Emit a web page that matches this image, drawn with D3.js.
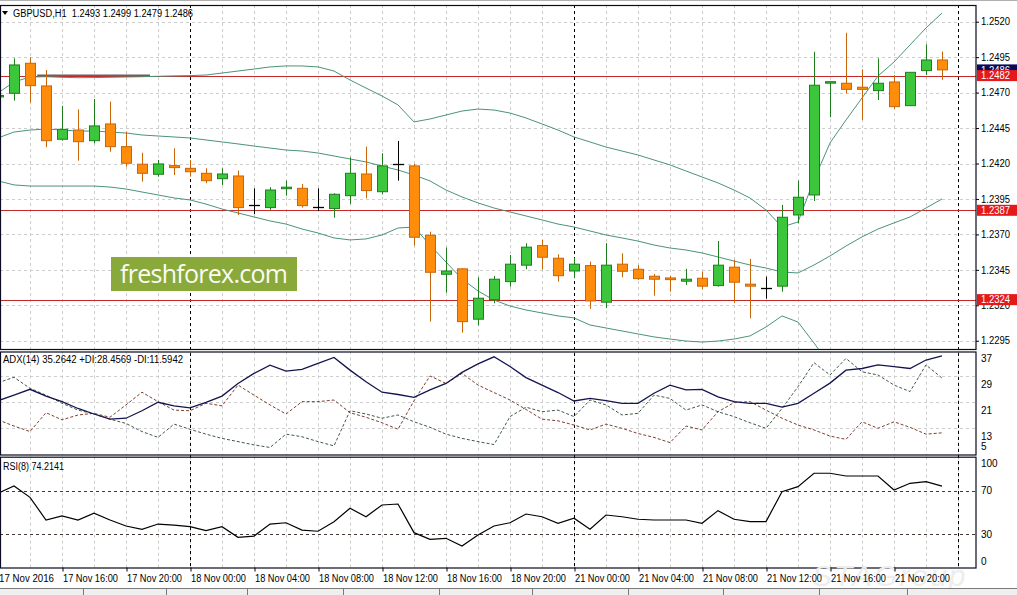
<!DOCTYPE html>
<html><head><meta charset="utf-8">
<script src="https://cdn.jsdelivr.net/npm/d3@7"></script>
<style>
body{margin:0;background:#fff;overflow:hidden}
svg{display:block}
text{font-family:"Liberation Sans",Arial,sans-serif;}
</style>
</head><body>
<svg id="c" width="1017" height="595"></svg>
<script>
// ---------- DATA ----------
const symbolHeader = "GBPUSD,H1  1.2493 1.2499 1.2479 1.2486";
const adxHeader = "ADX(14) 35.2642 +DI:28.4569 -DI:11.5942";
const rsiHeader = "RSI(8) 74.2141";
// candles: 17 Nov 12:00 .. 21 Nov 23:00 (H1)
const open  = [1.24670,1.24695,1.24907,1.24747,1.24371,1.24436,1.24361,1.24479,1.24319,1.24195,1.24124,1.24185,1.24166,1.24131,1.24093,1.24112,1.23906,1.23889,1.24023,1.24025,1.23892,1.23882,1.23973,1.24126,1.24001,1.24197,1.24183,1.23694,1.23419,1.23457,1.23102,1.23240,1.23367,1.23483,1.23621,1.23532,1.23442,1.23480,1.23222,1.23490,1.23454,1.23405,1.23393,1.23370,1.23391,1.23339,1.23469,1.23349,1.23320,1.23335,1.23837,1.23978,1.24773,1.24766,1.24738,1.24714,1.24775,1.24608,1.24855,1.24930];
const high  = [1.24700,1.24942,1.24949,1.24859,1.24606,1.24582,1.24655,1.24636,1.24424,1.24276,1.24225,1.24307,1.24225,1.24166,1.24166,1.24150,1.24025,1.24033,1.24079,1.24056,1.24025,1.23990,1.24244,1.24319,1.24272,1.24359,1.24197,1.23719,1.23607,1.23461,1.23398,1.23407,1.23555,1.23638,1.23661,1.23560,1.23536,1.23508,1.23638,1.23567,1.23483,1.23421,1.23407,1.23457,1.23437,1.23654,1.23520,1.23527,1.23402,1.23908,1.24079,1.24988,1.24778,1.25122,1.24864,1.24942,1.24824,1.24845,1.25041,1.24990];
const low   = [1.24640,1.24643,1.24629,1.24315,1.24361,1.24220,1.24343,1.24283,1.24178,1.24072,1.24107,1.24119,1.24107,1.24061,1.24049,1.23837,1.23842,1.23873,1.23973,1.23889,1.23865,1.23818,1.23915,1.23955,1.23983,1.24079,1.23621,1.23085,1.23289,1.23007,1.23057,1.23215,1.23332,1.23454,1.23454,1.23367,1.23391,1.23175,1.23180,1.23398,1.23379,1.23268,1.23296,1.23344,1.23313,1.23332,1.23215,1.23109,1.23247,1.23296,1.23779,1.23936,1.24526,1.24695,1.24507,1.24648,1.24585,1.24606,1.24824,1.24790];
const close = [1.24680,1.24895,1.24749,1.24361,1.24441,1.24354,1.24465,1.24319,1.24202,1.24131,1.24197,1.24171,1.24142,1.24079,1.24126,1.23889,1.23906,1.24013,1.24033,1.23903,1.23892,1.23983,1.24131,1.24009,1.24183,1.24197,1.23680,1.23433,1.23442,1.23085,1.23250,1.23384,1.23490,1.23610,1.23539,1.23409,1.23490,1.23231,1.23483,1.23440,1.23388,1.23384,1.23381,1.23384,1.23335,1.23483,1.23363,1.23335,1.23320,1.23821,1.23962,1.24752,1.24777,1.24723,1.24723,1.24766,1.24601,1.24843,1.24930,1.24860];
// Bollinger bands
const bbUpper = [1.24697,1.24775,1.24810,1.24812,1.24808,1.24805,1.24806,1.24808,1.24810,1.24812,1.24815,1.24818,1.24820,1.24824,1.24838,1.24852,1.24866,1.24881,1.24888,1.24888,1.24881,1.24852,1.24789,1.24732,1.24676,1.24613,1.24493,1.24514,1.24542,1.24570,1.24584,1.24577,1.24556,1.24521,1.24479,1.24436,1.24387,1.24352,1.24316,1.24288,1.24260,1.24225,1.24190,1.24147,1.24105,1.24063,1.24013,1.23957,1.23872,1.23752,1.23788,1.24084,1.24345,1.24507,1.24662,1.24817,1.24916,1.25036,1.25156,1.25261];
const bbMiddle = [1.24380,1.24422,1.24436,1.24443,1.24436,1.24429,1.24429,1.24422,1.24415,1.24401,1.24394,1.24387,1.24380,1.24366,1.24352,1.24338,1.24323,1.24309,1.24295,1.24288,1.24274,1.24253,1.24232,1.24211,1.24182,1.24154,1.24119,1.24077,1.24013,1.23964,1.23922,1.23886,1.23858,1.23830,1.23802,1.23773,1.23752,1.23724,1.23696,1.23675,1.23653,1.23625,1.23604,1.23590,1.23569,1.23541,1.23512,1.23484,1.23463,1.23435,1.23428,1.23484,1.23548,1.23618,1.23682,1.23738,1.23781,1.23823,1.23886,1.23950];
const bbLower = [1.24077,1.24049,1.24041,1.24041,1.24041,1.24041,1.24041,1.24034,1.24020,1.23999,1.23978,1.23957,1.23943,1.23914,1.23879,1.23851,1.23823,1.23795,1.23773,1.23738,1.23710,1.23675,1.23661,1.23668,1.23696,1.23745,1.23752,1.23625,1.23505,1.23386,1.23301,1.23237,1.23195,1.23167,1.23146,1.23125,1.23111,1.23061,1.23040,1.23019,1.22998,1.22977,1.22962,1.22948,1.22941,1.22948,1.22962,1.22984,1.23047,1.23125,1.23082,1.22934,1.22779,null,null,null,null,null,null,null];
// ADX(14)
const adx     = [21.5,23.2,25.0,22.9,21.2,19.1,17.4,15.8,16.1,18.4,21.0,19.9,19.3,21.0,22.9,26.8,29.9,32.4,30.6,31.1,33.0,34.8,30.9,27.3,24.1,23.4,22.5,24.8,26.8,30.2,32.8,35.0,32.0,28.6,26.3,24.0,21.4,22.2,21.5,20.7,20.7,23.8,26.3,24.8,25.0,22.7,21.2,20.7,20.7,19.5,20.7,23.8,26.9,30.9,31.4,32.5,32.0,31.4,34.0,35.2642];
const plusDI  = [27.0,28.7,25.3,23.2,20.7,18.6,17.4,15.8,14.5,12.0,10.2,14.3,12.7,11.2,9.9,8.9,7.9,7.1,11.2,10.4,8.9,7.6,18.4,17.4,16.1,17.1,15.0,13.3,11.2,9.9,8.9,8.0,16.6,19.5,18.1,18.6,16.6,21.7,20.2,17.1,17.6,23.2,22.2,18.6,20.2,18.1,16.6,14.7,13.0,19.1,25.8,33.2,29.4,34.5,30.4,29.4,26.3,24.3,32.5,28.4569];
const minusDI = [15.6,13.7,12.0,17.8,15.6,17.1,17.6,16.4,20.2,24.1,21.2,18.6,18.4,20.7,19.9,26.3,23.2,20.2,17.4,21.2,21.2,21.7,17.8,16.4,14.7,12.7,21.5,29.1,26.8,29.9,26.3,24.0,21.7,18.8,15.8,15.3,14.0,12.5,14.3,13.0,11.4,10.2,8.6,13.7,12.5,18.1,20.9,21.2,18.6,16.1,14.0,12.5,10.6,9.6,15.0,13.0,15.0,13.3,11.2,11.5942];
// RSI(8)
const rsi = [67.6,74.3,63.9,43.1,46.8,43.1,49.3,43.1,37.6,34.6,39.4,38.5,37.0,33.3,37.0,27.2,28.4,39.4,40.6,33.9,32.8,41.6,53.9,46.1,56.9,57.8,31.5,25.4,26.3,19.3,29.4,37.6,40.6,48.6,46.1,40.1,44.7,34.6,47.7,46.1,43.8,43.1,43.1,43.1,40.1,51.7,43.8,41.6,41.6,69.1,73.7,86.0,86.0,83.5,83.5,83.5,70.6,76.8,78.3,74.2141];
// axis
const timeTickIndex = [0,4,8,12,16,20,24,28,32,36,40,44,48,52,56];
const timeTickLabels = ["17 Nov 2016","17 Nov 16:00","17 Nov 20:00","18 Nov 00:00","18 Nov 04:00","18 Nov 08:00","18 Nov 12:00","18 Nov 16:00","18 Nov 20:00","21 Nov 00:00","21 Nov 04:00","21 Nov 08:00","21 Nov 12:00","21 Nov 16:00","21 Nov 20:00"];
const daySeparatorIndex = [12,36,60];
const priceTicks = [1.2520,1.2495,1.2470,1.2445,1.2420,1.2395,1.2370,1.2345,1.2320,1.2295];
const adxTicks = [37,29,21,13,5];
const rsiTicks = [100,70,30,0];
const rsiLevels = [70,30];
const levelLines = [1.2482,1.2387,1.2324];
const bidPrice = 1.2486;
const grayLevel = {price:1.2482, from:2.45, to:9.5};

// ---------- LAYOUT ----------
const PR = 976;
const main = {top:5, bottom:349};
const pAdx = {top:351.5, bottom:454.5};
const pRsi = {top:456.7, bottom:567.5};

const svg = d3.select('#c');
svg.append('rect').attr('width',1017).attr('height',595).attr('fill','#fff');

const x = d3.scaleLinear().domain([0,59]).range([-2,942]);
const yP = d3.scaleLinear().domain([1.2295,1.2520]).range([340.75,21.7]);
const yA = d3.scaleLinear().domain([5,37]).range([454.3,350.3]);
const yR = d3.scaleLinear().domain([0,100]).range([567,458]);

const defs = svg.append('defs');
[['cMain',main],['cAdx',pAdx],['cRsi',pRsi]].forEach(([id,p])=>{
  defs.append('clipPath').attr('id',id).append('rect')
    .attr('x',0).attr('y',p.top).attr('width',PR).attr('height',p.bottom-p.top);
});

const GRID = '#cdcdcd';
const vIdx = d3.range(2,61,2);
[main,pAdx,pRsi].forEach(p=>{
  svg.append('g').selectAll('line').data(vIdx).join('line')
    .attr('x1',d=>Math.round(x(d))+0.5).attr('x2',d=>Math.round(x(d))+0.5)
    .attr('y1',p.top).attr('y2',p.bottom)
    .attr('stroke',GRID).attr('stroke-dasharray','3,3');
});
svg.append('g').selectAll('line').data(priceTicks).join('line')
  .attr('x1',0).attr('x2',PR)
  .attr('y1',d=>Math.round(yP(d))+0.5).attr('y2',d=>Math.round(yP(d))+0.5)
  .attr('stroke',GRID).attr('stroke-dasharray','3,3');
svg.append('g').selectAll('line').data([29,21,13]).join('line')
  .attr('x1',0).attr('x2',PR)
  .attr('y1',d=>Math.round(yA(d))+0.5).attr('y2',d=>Math.round(yA(d))+0.5)
  .attr('stroke',GRID).attr('stroke-dasharray','3,3');

svg.append('g').selectAll('line').data(daySeparatorIndex).join('line')
  .attr('x1',d=>Math.round(x(d))+0.5).attr('x2',d=>Math.round(x(d))+0.5)
  .attr('y1',main.top).attr('y2',pRsi.bottom)
  .attr('stroke','#000').attr('stroke-dasharray','3,3');

const gm = svg.append('g').attr('clip-path','url(#cMain)');
gm.append('line')
  .attr('x1',x(grayLevel.from)).attr('x2',x(grayLevel.to))
  .attr('y1',yP(grayLevel.price)).attr('y2',yP(grayLevel.price))
  .attr('stroke','#6e5f5f').attr('stroke-width',2.2);
gm.selectAll('line.lvl').data(levelLines).join('line').attr('class','lvl')
  .attr('x1',0).attr('x2',PR)
  .attr('y1',d=>Math.round(yP(d))+0.5).attr('y2',d=>Math.round(yP(d))+0.5)
  .attr('stroke','#c42a2a').attr('stroke-width',1);

const bbLine = d3.line().defined(d=>d!=null).x((d,i)=>x(i)).y(d=>yP(d));
[bbUpper,bbMiddle,bbLower].forEach(arr=>{
  gm.append('path').attr('d',bbLine(arr)).attr('fill','none')
    .attr('stroke','#4b9478').attr('stroke-width',1);
});

const candles = d3.range(open.length).map(i=>({i,o:open[i],h:high[i],l:low[i],c:close[i]}));
const kind = d => d.c>d.o ? 'up' : (d.c<d.o ? 'dn' : 'dj');
const wickCol = {up:'#1f7d1f', dn:'#c8640a', dj:'#000'};
const fillCol = {up:'#3cc63c', dn:'#ff8c0a'};
const strokeCol = {up:'#1f7d1f', dn:'#c8640a'};
const gc = gm.append('g');
gc.selectAll('line.w').data(candles).join('line').attr('class','w')
  .attr('x1',d=>x(d.i)+0.5).attr('x2',d=>x(d.i)+0.5)
  .attr('y1',d=>yP(d.h)).attr('y2',d=>yP(d.l))
  .attr('stroke',d=>wickCol[kind(d)]).attr('stroke-width',1);
gc.selectAll('rect.b').data(candles.filter(d=>kind(d)!=='dj')).join('rect').attr('class','b')
  .attr('x',d=>x(d.i)-4.5)
  .attr('y',d=>yP(Math.max(d.o,d.c)))
  .attr('width',10)
  .attr('height',d=>Math.max(1.5,Math.abs(yP(d.o)-yP(d.c))))
  .attr('fill',d=>fillCol[kind(d)]).attr('stroke',d=>strokeCol[kind(d)]).attr('stroke-width',1);
gc.selectAll('line.dj').data(candles.filter(d=>kind(d)==='dj')).join('line').attr('class','dj')
  .attr('x1',d=>x(d.i)-5).attr('x2',d=>x(d.i)+6)
  .attr('y1',d=>Math.round(yP(d.o))+0.5).attr('y2',d=>Math.round(yP(d.o))+0.5)
  .attr('stroke','#000').attr('stroke-width',1.3);

// logo
const logo = svg.append('g');
logo.append('rect').attr('x',111).attr('y',257).attr('width',186).attr('height',34).attr('fill','#89a93b');
logo.append('text').attr('x',120).attr('y',283).text('freshforex.com')
  .attr('fill','#fbfbf3').attr('font-size',25).attr('textLength',168)
  .style('font-family','"Open Sans","Noto Sans",sans-serif');

// ADX panel
const ga = svg.append('g').attr('clip-path','url(#cAdx)');
const la = d3.line().x((d,i)=>x(i)).y(d=>yA(d));
ga.append('path').attr('d',la(minusDI)).attr('fill','none').attr('stroke','#7d3f2e').attr('stroke-width',1).attr('stroke-dasharray','3,2');
ga.append('path').attr('d',la(plusDI)).attr('fill','none').attr('stroke','#40584c').attr('stroke-width',1).attr('stroke-dasharray','3,2');
ga.append('path').attr('d',la(adx)).attr('fill','none').attr('stroke','#14144e').attr('stroke-width',1.3);

// RSI panel
const gr = svg.append('g').attr('clip-path','url(#cRsi)');
gr.selectAll('line.lv').data(rsiLevels).join('line').attr('class','lv')
  .attr('x1',0).attr('x2',PR)
  .attr('y1',d=>Math.round(yR(d))+0.5).attr('y2',d=>Math.round(yR(d))+0.5)
  .attr('stroke','#4a3434').attr('stroke-dasharray','3,3');
const lr = d3.line().x((d,i)=>x(i)).y(d=>yR(d));
gr.append('path').attr('d',lr(rsi)).attr('fill','none').attr('stroke','#000').attr('stroke-width',1.2);

// panel borders
[main,pAdx,pRsi].forEach(p=>{
  svg.append('rect').attr('x',0.5).attr('y',p.top+0.5).attr('width',PR-0.5).attr('height',p.bottom-p.top)
    .attr('fill','none').attr('stroke','#0a0a20').attr('stroke-width',1.2);
});
svg.append('line').attr('x1',0).attr('x2',1017).attr('y1',0.5).attr('y2',0.5).attr('stroke','#b0b0b0');

// watermark (behind axis labels)
svg.append('text').attr('x',812).attr('y',586).text('STAGroup')
  .attr('font-size',30).attr('font-style','italic').attr('fill','#ededed').attr('letter-spacing',2);

// price axis
const FS = 10;
const pa = svg.append('g').attr('transform',`translate(${PR},0)`)
  .call(d3.axisRight(yP).tickValues(priceTicks).tickFormat(d3.format('.4f')).tickSize(3).tickPadding(2));
pa.select('.domain').remove();
pa.selectAll('text').attr('font-size',FS).attr('fill','#000').attr('textLength',29).attr('lengthAdjust','spacingAndGlyphs')
  .style('font-family','"Liberation Sans",Arial,sans-serif');
pa.selectAll('line').attr('stroke','#000');

// bid label then red level labels
const labs = svg.append('g');
labs.append('rect').attr('x',977).attr('y',yP(bidPrice)-5.5).attr('width',40).attr('height',11).attr('fill','#0a0a5a');
labs.append('text').attr('x',981).attr('y',yP(bidPrice)+3.6).text(d3.format('.4f')(bidPrice)).attr('fill','#fff').attr('font-size',FS).attr('textLength',29).attr('lengthAdjust','spacingAndGlyphs');
labs.selectAll('rect.r').data(levelLines).join('rect').attr('class','r')
  .attr('x',977).attr('y',d=>yP(d)-5.5).attr('width',40).attr('height',11).attr('fill','#e3191c');
labs.selectAll('text.r').data(levelLines).join('text').attr('class','r')
  .attr('x',981).attr('y',d=>yP(d)+3.6).text(d=>d3.format('.4f')(d)).attr('fill','#fff').attr('font-size',FS).attr('textLength',29).attr('lengthAdjust','spacingAndGlyphs');

// ADX axis labels
svg.append('g').selectAll('text').data(adxTicks).join('text')
  .attr('x',981).attr('y',d=> d===5 ? yA(d)-4 : Math.max(yA(d)+12,361))
  .text(d=>d).attr('font-size',FS).attr('fill','#000');
// RSI axis labels
svg.append('g').selectAll('text').data(rsiTicks).join('text')
  .attr('x',981).attr('y',d=> d===100 ? yR(d)+9 : (d===0 ? yR(d)-2.5 : yR(d)+3.6))
  .text(d=>d).attr('font-size',FS).attr('fill','#000');

// time axis
const ta = svg.append('g').attr('transform',`translate(0,${pRsi.bottom})`)
  .call(d3.axisBottom(x).tickValues(timeTickIndex).tickFormat((d,i)=>timeTickLabels[i]).tickSize(4).tickPadding(3));
ta.select('.domain').remove();
ta.selectAll('line').attr('stroke','#000').attr('transform','translate(0.5,0)');
ta.selectAll('text').attr('text-anchor','start').attr('dx',0.5).attr('font-size',FS).attr('fill','#000')
  .attr('textLength',55).attr('lengthAdjust','spacingAndGlyphs')
  .style('font-family','"Liberation Sans",Arial,sans-serif');

// headers
svg.append('path').attr('d','M2,11 L8,11 L5,15 Z').attr('fill','#000');
svg.append('text').attr('x',13).attr('y',17).text(symbolHeader).attr('font-size',FS).attr('fill','#000')
  .attr('xml:space','preserve').attr('textLength',180).attr('lengthAdjust','spacingAndGlyphs');
svg.append('text').attr('x',3).attr('y',363).text(adxHeader).attr('font-size',FS).attr('fill','#000')
  .attr('textLength',180).attr('lengthAdjust','spacingAndGlyphs');
svg.append('text').attr('x',3).attr('y',470).text(rsiHeader).attr('font-size',FS).attr('fill','#000')
  .attr('textLength',61).attr('lengthAdjust','spacingAndGlyphs');

// bottom tab bar
const tb = svg.append('g');
tb.append('rect').attr('x',0).attr('y',588).attr('width',1017).attr('height',7).attr('fill','#efefef');
tb.append('line').attr('x1',0).attr('x2',1017).attr('y1',588.5).attr('y2',588.5).attr('stroke','#7a7a7a');
tb.selectAll('line.s').data([83,166,247,343,439,532,628,723,819,907]).join('line').attr('class','s')
  .attr('x1',d=>d+0.5).attr('x2',d=>d+0.5).attr('y1',589).attr('y2',595).attr('stroke','#7a7a7a');
</script>
</body></html>
